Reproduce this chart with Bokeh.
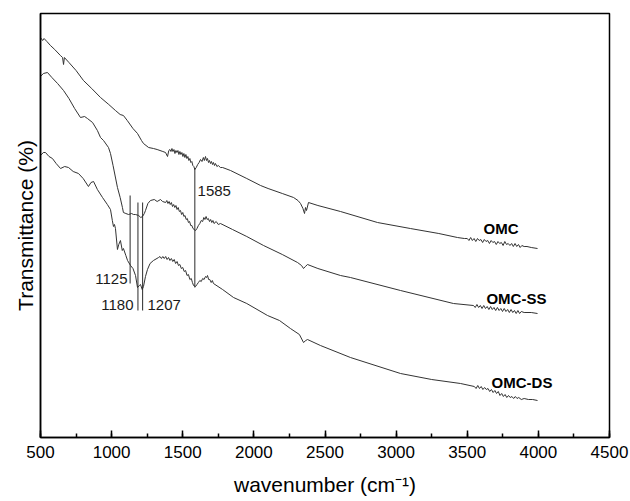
from bokeh.plotting import figure
from bokeh.models import Range1d, SingleIntervalTicker, FixedTicker, ColumnDataSource
from bokeh.core.properties import value
from bokeh.embed import file_html
from bokeh.resources import INLINE

# ---- data: (wavenumber cm-1, transmittance in arbitrary units) ----
omc = [(500, 400), (515, 397), (525, 399), (545, 396), (570, 392), (600, 388), (640, 382),
       (655, 380), (662, 373), (668, 380), (700, 375), (750, 367), (802, 357), (860, 349),
       (922, 340), (980, 333), (1027, 327), (1060, 323), (1083, 322), (1110, 317), (1150, 309),
       (1182, 304), (1210, 297), (1224, 294), (1260, 290), (1294, 289), (1320, 288), (1340, 287),
       (1360, 286), (1379, 285), (1393, 281), (1402, 287),
       (1410, 288), (1417, 286), (1424, 289), (1431, 286), (1438, 288), (1445, 284), (1452, 287),
       (1459, 285), (1466, 287), (1473, 283), (1480, 286), (1487, 283), (1494, 285), (1501, 281),
       (1508, 284), (1515, 280), (1522, 283), (1529, 279), (1536, 281), (1543, 277), (1550, 279),
       (1557, 275), (1564, 276), (1571, 272), (1578, 271), (1585, 268), (1595, 270), (1605, 273),
       (1615, 275), (1625, 278), (1635, 276), (1645, 280), (1652, 277), (1660, 281), (1667, 277),
       (1674, 279), (1681, 275), (1688, 277), (1695, 274), (1702, 276), (1709, 273), (1716, 275),
       (1723, 272), (1730, 274), (1740, 271), (1750, 272), (1765, 270), (1780, 270),
       (1836, 267), (1950, 259), (2047, 252), (2100, 249), (2200, 244), (2279, 240), (2310, 237),
       (2328, 234), (2345, 229), (2356, 224), (2363, 230), (2370, 227), (2384, 235), (2450, 232),
       (2609, 226), (2869, 215), (3100, 209), (3300, 204), (3431, 200), (3480, 199),
       (3500, 199), (3512, 197), (3524, 200), (3536, 197), (3548, 199), (3560, 196), (3572, 199),
       (3584, 197), (3596, 198), (3608, 195), (3620, 198), (3632, 196), (3644, 197), (3656, 194),
       (3668, 197), (3680, 195), (3692, 196), (3704, 193), (3716, 196), (3728, 194), (3740, 195),
       (3752, 192), (3764, 196), (3776, 193), (3788, 194), (3800, 192), (3812, 194), (3824, 191),
       (3836, 194), (3848, 191), (3860, 193), (3872, 190), (3884, 192), (3900, 191), (3920, 191),
       (3950, 190), (3994, 189)]

omc_ss = [(500, 361), (520, 364), (549, 365), (580, 360), (620, 354), (662, 347), (700, 339),
          (740, 329), (781, 320), (810, 321), (830, 319), (866, 315), (900, 307), (922, 300),
          (943, 297), (978, 290), (992, 284), (1010, 272), (1041, 250), (1060, 240), (1076, 230),
          (1083, 225), (1100, 224), (1119, 223), (1140, 224), (1154, 223), (1168, 223), (1190, 222),
          (1205, 220), (1217, 221), (1230, 224), (1238, 227), (1255, 234), (1273, 237), (1300, 238),
          (1320, 236), (1344, 238), (1358, 236),
          (1380, 235), (1388, 237), (1396, 234), (1404, 236), (1412, 233), (1420, 235), (1428, 231),
          (1436, 233), (1444, 230), (1452, 232), (1460, 228), (1468, 230), (1476, 226), (1484, 227),
          (1492, 223), (1500, 225), (1508, 221), (1516, 222), (1524, 218), (1532, 219), (1540, 215),
          (1548, 216), (1556, 212), (1564, 212), (1572, 209), (1580, 208), (1590, 207), (1600, 209),
          (1610, 212), (1620, 214), (1630, 217), (1640, 216), (1648, 220), (1656, 218), (1664, 221),
          (1672, 218), (1680, 219), (1688, 216), (1696, 218), (1704, 215), (1712, 217), (1720, 214),
          (1735, 216), (1750, 213), (1765, 214),
          (1850, 208), (1950, 201), (2068, 192), (2200, 183), (2307, 175), (2335, 172), (2349, 169),
          (2362, 171), (2377, 173), (2450, 169), (2609, 162), (2679, 160), (3031, 147), (3403, 134),
          (3544, 132), (3556, 130), (3568, 133), (3580, 130), (3592, 132), (3604, 129), (3616, 132),
          (3628, 129), (3640, 131), (3652, 128), (3664, 131), (3676, 128), (3688, 130), (3700, 127),
          (3712, 130), (3724, 127), (3736, 129), (3748, 126), (3760, 129), (3772, 126), (3784, 128),
          (3796, 125), (3808, 128), (3820, 125), (3832, 127), (3844, 124), (3856, 127), (3868, 124),
          (3880, 126), (3900, 125), (3950, 125), (3994, 124)]

omc_ds = [(500, 282), (520, 285), (535, 285), (560, 281), (584, 279), (610, 274), (641, 269),
          (670, 271), (697, 270), (730, 266), (767, 264), (800, 259), (837, 251), (855, 255),
          (873, 256), (900, 248), (936, 240), (970, 233), (992, 228), (1005, 217), (1013, 211),
          (1020, 213), (1027, 209), (1041, 188), (1050, 193), (1062, 197), (1075, 187), (1083, 189),
          (1100, 182), (1112, 177), (1133, 172), (1150, 169), (1168, 162), (1182, 150), (1195, 152),
          (1203, 153), (1215, 148), (1224, 151), (1238, 161), (1252, 168), (1270, 174), (1294, 177),
          (1330, 180), (1340, 181), (1350, 179), (1360, 181), (1370, 179), (1380, 181), (1390, 178),
          (1400, 180), (1410, 177), (1420, 179), (1430, 176), (1440, 178), (1450, 174), (1460, 176),
          (1470, 172), (1480, 173), (1490, 169), (1500, 170), (1510, 166), (1520, 167), (1530, 162),
          (1540, 163), (1550, 158), (1560, 159), (1568, 155), (1576, 152), (1590, 151), (1600, 153),
          (1610, 155), (1620, 157), (1630, 156), (1640, 159), (1650, 158), (1660, 161), (1667, 160),
          (1674, 162), (1682, 158), (1690, 158), (1700, 155), (1708, 157), (1716, 154),
          (1780, 148), (1857, 140), (1950, 134), (2096, 122), (2180, 117), (2257, 109), (2320, 103),
          (2349, 95), (2365, 97), (2377, 98), (2468, 92), (2679, 80), (3031, 64), (3250, 58),
          (3453, 54),
          (3550, 51), (3562, 49), (3574, 52), (3586, 49), (3598, 51), (3610, 48), (3622, 50),
          (3634, 48), (3646, 49), (3658, 46), (3670, 48), (3682, 45), (3694, 47), (3706, 44),
          (3718, 46), (3730, 42), (3742, 44), (3754, 41), (3766, 43), (3778, 40), (3790, 42),
          (3802, 40), (3814, 41), (3826, 39), (3838, 41), (3850, 39), (3862, 40), (3880, 38),
          (3900, 39), (3930, 38), (3960, 38), (3994, 37)]

# peak marker lines: wavenumber, bottom, top
mark_wn = [1585, 1130, 1185, 1218]
mark_lo = [150, 154, 127, 127]
mark_hi = [269, 242, 235, 235]

peak_labels = ["1585", "1125", "1180", "1207"]
peak_lab_wn = [1604, 1112, 1154, 1252]
peak_lab_t = [247, 159, 133, 133]
peak_lab_align = ["left", "right", "right", "left"]

series_names = ["OMC", "OMC-SS", "OMC-DS"]
series_lab_wn = [3614, 3635, 3671]
series_lab_t = [209, 139, 55]

FONT = "Liberation Sans"

p = figure(width=630, height=501, output_backend="svg", toolbar_location=None,
           x_range=Range1d(500, 4500), y_range=Range1d(0, 424),
           min_border_left=40, min_border_right=21, min_border_top=13, min_border_bottom=64)
p.background_fill_color = "white"
p.border_fill_color = "white"
p.xgrid.visible = False
p.ygrid.visible = False
p.outline_line_color = "black"
p.outline_line_width = 1.5

line_col = "#333333"
for series in (omc, omc_ss, omc_ds):
    xs = [a for a, b in series]
    ys = [b for a, b in series]
    p.line(xs, ys, line_color=line_col, line_width=1)

p.segment(x0=mark_wn, y0=mark_lo, x1=mark_wn, y1=mark_hi, line_color="#2a2a2a", line_width=1)

src = ColumnDataSource(dict(x=peak_lab_wn, y=peak_lab_t, t=peak_labels, a=peak_lab_align))
p.text(x="x", y="y", text="t", source=src, text_align="a", text_baseline="middle",
       text_font=value(FONT), text_font_size="15px", text_color="#1a1a1a")

p.text(x=series_lab_wn, y=series_lab_t, text=series_names, text_align="left",
       text_baseline="middle", text_font=value(FONT), text_font_size="15px",
       text_font_style="bold", text_color="black")

xa = p.xaxis[0]
xa.ticker = SingleIntervalTicker(interval=500, num_minor_ticks=2)
xa.major_tick_in = 7
xa.major_tick_out = 0
xa.minor_tick_in = 4
xa.minor_tick_out = 0
xa.major_tick_line_color = "black"
xa.minor_tick_line_color = "black"
xa.major_tick_line_width = 1.5
xa.minor_tick_line_width = 1.5
xa.axis_line_color = "black"
xa.axis_line_width = 1.5
xa.major_label_text_font = FONT
xa.major_label_text_font_size = "17px"
xa.major_label_text_color = "black"
xa.major_label_standoff = 8
xa.axis_label = "wavenumber (cm\u207b\u00b9)"
xa.axis_label_text_font = FONT
xa.axis_label_text_font_size = "21px"
xa.axis_label_text_font_style = "normal"
xa.axis_label_text_color = "black"
xa.axis_label_standoff = 12

ya = p.yaxis[0]
ya.ticker = FixedTicker(ticks=[])
ya.major_tick_line_color = None
ya.minor_tick_line_color = None
ya.major_label_text_font_size = "0px"
ya.axis_line_color = "black"
ya.axis_line_width = 1.5
ya.axis_label = "Transmittance (%)"
ya.axis_label_text_font = FONT
ya.axis_label_text_font_size = "21px"
ya.axis_label_text_font_style = "normal"
ya.axis_label_text_color = "black"
ya.axis_label_standoff = 4

open("out.html", "w").write(file_html(p, INLINE))
